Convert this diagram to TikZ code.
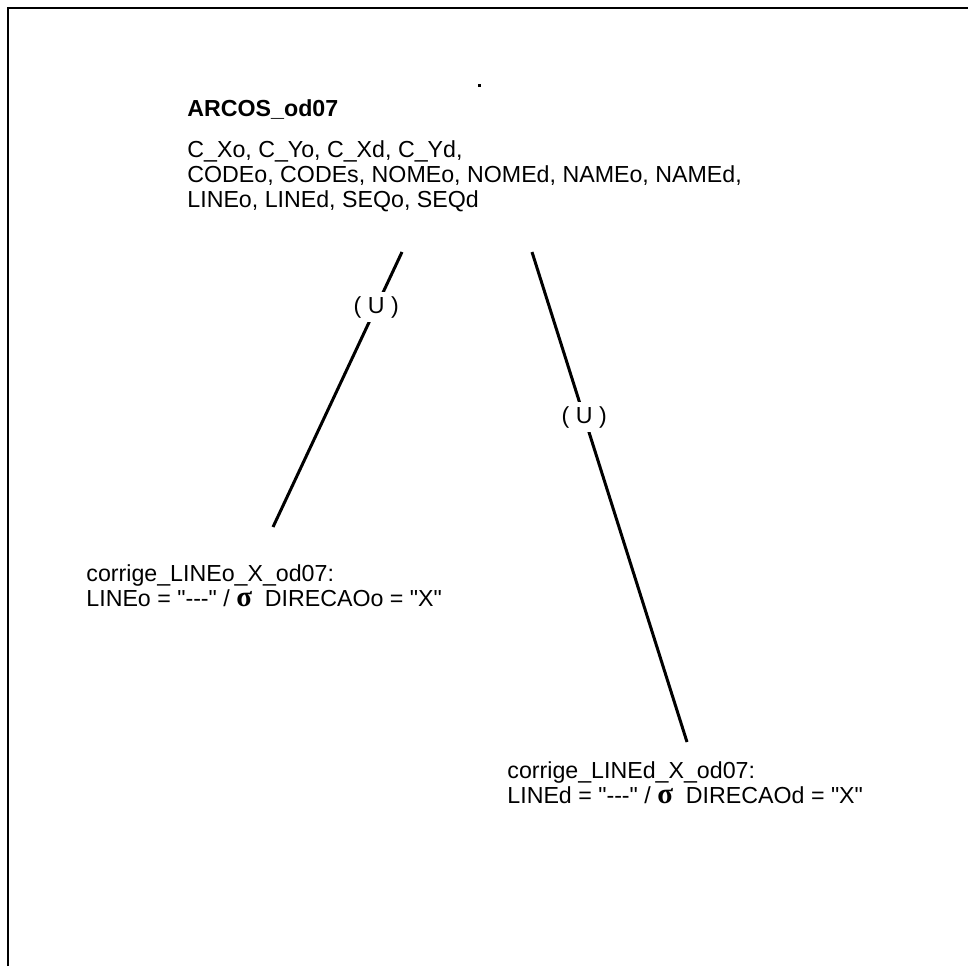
\documentclass[tikz,border=0pt]{standalone}
\usepackage{fontspec}
\setmainfont{Liberation Sans}
% no tex-text mapping here, so "---" stays as typed
\newfontfamily\arialf{Liberation Sans}
\newfontfamily\sgfont{Liberation Serif}
\newcommand{\sg}{{\sgfont\bfseries\fontsize{14.5}{14.5}\selectfont σ}}

\tikzset{
  txt/.style={anchor=north west, align=left, inner sep=0pt, font=\arialf\fontsize{11.6}{12.6}\selectfont},
  ulbl/.style={fill=white, inner sep=2pt, font=\arialf\fontsize{11.6}{12.6}\selectfont},
  arc/.style={line width=1.5pt}
}

\begin{document}
\begin{tikzpicture}[x=0.5pt,y=-0.5pt]
	\useasboundingbox (0,0) rectangle (968,966);
	% frame
	\draw[line width=1pt] (7.5,966) |- (968,7.5);
	\fill (477.5,84) rectangle (480.5,86.5);

	\node (Ar) at (187,116) [anchor=base west, inner sep=0pt, font=\arialf\fontsize{11.6}{12.6}\selectfont\bfseries] {ARCOS\_od07};
	\node (At) at (187,140) [txt] {C\_Xo, C\_Yo, C\_Xd, C\_Yd,\\CODEo, CODEs, NOMEo, NOMEd, NAMEo, NAMEd,\\LINEo, LINEd, SEQo, SEQd};
	\node (Lo) at (86,564) [txt] {corrige\_LINEo\_X\_od07:\\LINEo = "---" / \sg\ \ DIRECAOo = "X"};
	\node (Ld) at (507,761) [txt] {corrige\_LINEd\_X\_od07:\\LINEd = "---" / \sg\ \ DIRECAOd = "X"};

	\coordinate (a1) at (402,252);
	\coordinate (a2) at (273,527);
	\coordinate (b1) at (532,252);
	\coordinate (b2) at (687,742);
	\draw[arc] (a1) -- node[ulbl, pos=0.2] {( U )} (a2);
	\draw[arc] (b1) -- node[ulbl, pos=0.337] {( U )} (b2);
\end{tikzpicture}
\end{document}
